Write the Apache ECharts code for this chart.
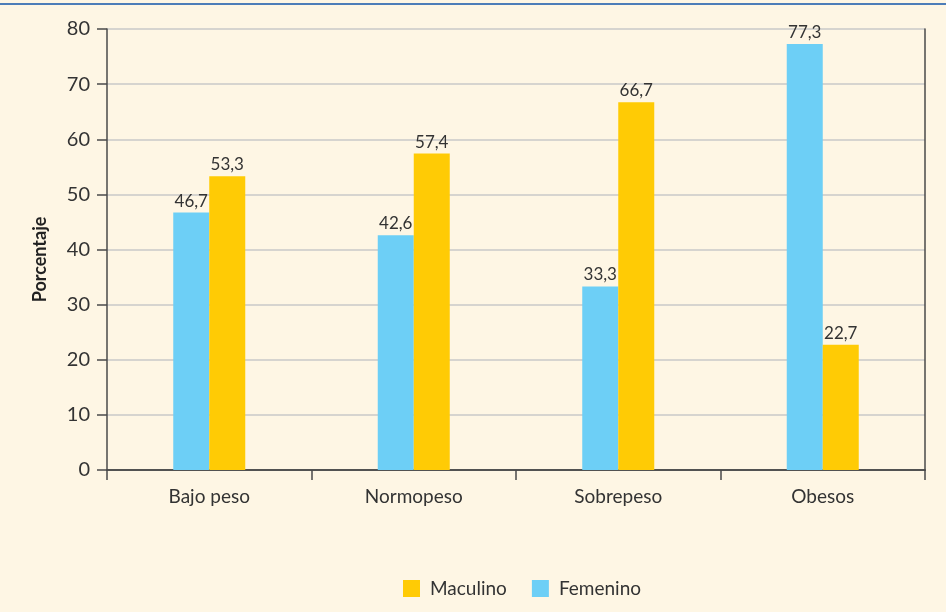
<!DOCTYPE html>
<html>
<head>
<meta charset="utf-8">
<script src="https://cdn.jsdelivr.net/npm/echarts@6/dist/echarts.min.js"></script>
<style>
  html, body { margin: 0; padding: 0; background: #fef6e4; }
  #chart { width: 946px; height: 612px; }
</style>
</head>
<body>
<div id="chart"></div>
<script>
const categories = ['Bajo peso', 'Normopeso', 'Sobrepeso', 'Obesos']
const femenino = [46.7, 42.6, 33.3, 77.3]
const maculino = [53.3, 57.4, 66.7, 22.7]

const fmt = (p) => String(p.value).replace('.', ',')
const labelStyle = {
  show: true,
  position: 'top',
  distance: 3,
  color: '#333',
  fontSize: 17,
  fontFamily: 'Lato',
  formatter: fmt,
}

const chart = echarts.init(document.getElementById('chart'))
chart.setOption({
  backgroundColor: '#fef6e4',
  animation: false,
  textStyle: { fontFamily: 'Lato' },
  graphic: [
    {
      type: 'line',
      shape: { x1: 0, y1: 4, x2: 946, y2: 4 },
      style: { stroke: '#4d7db8', lineWidth: 2 },
    },
  ],
  grid: { left: 107, right: 21, top: 29, bottom: 142 },
  legend: {
    data: ['Maculino', 'Femenino'],
    top: 574,
    left: 398,
    itemWidth: 17,
    itemHeight: 17,
    itemGap: 25,
    icon: 'rect',
    textStyle: { color: '#333', fontSize: 19, fontFamily: 'Lato', padding: [0, 0, 0, 5] },
  },
  xAxis: [
    {
      type: 'category',
      data: categories,
      axisLine: { lineStyle: { color: '#4a4a4a', width: 1.5 } },
      axisTick: { show: true, length: 10, lineStyle: { color: '#4a4a4a', width: 1.5 } },
      axisLabel: { color: '#333', fontSize: 19, margin: 17 },
    },
    {
      type: 'category',
      position: 'top',
      data: categories,
      axisLine: { show: true, lineStyle: { color: '#4a4a4a', width: 1.5 } },
      axisTick: { show: false },
      axisLabel: { show: false },
    },
  ],
  yAxis: [
    {
      type: 'value',
      min: 0,
      max: 80,
      interval: 10,
      name: 'Porcentaje',
      nameLocation: 'middle',
      nameGap: 58,
      nameTextStyle: { color: '#222', fontSize: 18, fontWeight: 'bold', fontFamily: 'Lato', padding: [0, 20, 0, 0] },
      axisLine: { show: true, lineStyle: { color: '#4a4a4a', width: 1.5 } },
      axisTick: { show: true, length: 10, lineStyle: { color: '#4a4a4a', width: 1.5 } },
      axisLabel: { color: '#333', fontSize: 20, margin: 17 },
      splitLine: { lineStyle: { color: '#c8c8c8', width: 1.5 } },
    },
    {
      type: 'value',
      position: 'right',
      min: 0,
      max: 80,
      axisLine: { show: true, lineStyle: { color: '#4a4a4a', width: 1.5 } },
      axisTick: { show: false },
      axisLabel: { show: false },
      splitLine: { show: false },
    },
  ],
  series: [
    {
      name: 'Femenino',
      type: 'bar',
      data: femenino,
      barWidth: 36,
      barGap: '0%',
      itemStyle: { color: '#6dcff6' },
      label: labelStyle,
    },
    {
      name: 'Maculino',
      type: 'bar',
      data: maculino,
      barWidth: 36,
      barGap: '0%',
      itemStyle: { color: '#ffcb05' },
      label: labelStyle,
    },
  ],
})
</script>
</body>
</html>
